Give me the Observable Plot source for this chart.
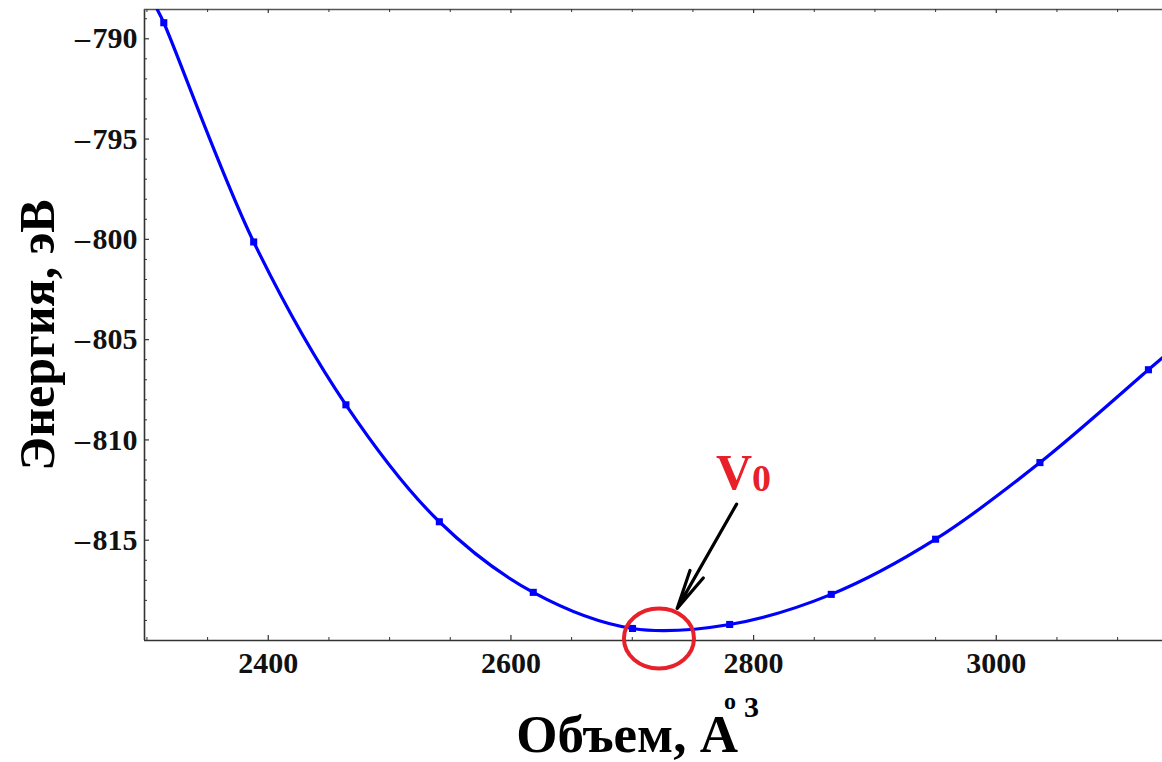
<!DOCTYPE html>
<html><head><meta charset="utf-8">
<script src="https://cdn.jsdelivr.net/npm/d3@7"></script>
<script src="https://cdn.jsdelivr.net/npm/@observablehq/plot@0.6"></script>
<style>
  html,body{margin:0;padding:0;background:#fff;}
  #chart svg{display:block;}
</style>
</head><body><div id="chart"></div>
<script>
// ---- data ----
const volumes  = [2313.9, 2388, 2464, 2541, 2618.4, 2700.2, 2780.3, 2864, 2950, 3036, 3125.4];
const energies = [-789.2, -800.13, -808.25, -814.08, -817.6, -819.4, -819.2, -817.7, -814.95, -811.13, -806.5];
// where the fitted curve leaves the frame
const fitEdgeVolumes  = [2308.5, 3137];
const fitEdgeEnergies = [-788.54, -805.9];
const xTicks = [2400, 2600, 2800, 3000];
const xMinorTicks = [2300, 2350, 2450, 2500, 2550, 2650, 2700, 2750, 2850, 2900, 2950, 3050, 3100];
const yTicks = [-790, -795, -800, -805, -810, -815];
const yMinorTicks = [-789, -791, -792, -793, -794, -796, -797, -798, -799, -801, -802, -803, -804,
                     -806, -807, -808, -809, -811, -812, -813, -814, -816, -817, -818, -819];
const xDomain = [2298, 3137];
const yDomain = [-820, -788.54];
const yLabel = "Энергия, эВ";
const xLabel = "Объем, A";
// V0 annotation (data coordinates)
const v0Circle = [{V: 2722, E: -819.9}];
const v0Arrow  = [{V1: 2786, E1: -813.2, V2: 2737, E2: -818.4}];
const v0Text   = [{V: 2769, E: -812.45, main: "V", sub: "0"}];

// ---- build tables ----
const points = volumes.map((v, i) => ({V: v, E: energies[i]}));
const fit = [{V: fitEdgeVolumes[0], E: fitEdgeEnergies[0]}, ...points, {V: fitEdgeVolumes[1], E: fitEdgeEnergies[1]}];

const W = 1162, H = 762;
const mL = 144, mR = 0, mT = 9, mB = 122;
const fw = W - mL - mR, fh = H - mT - mB;
const serif = "'Liberation Serif', 'Times New Roman', serif";
const red = "#e8202a";

const ellipseSymbol = {
  draw(ctx, size) {
    const r = Math.sqrt(size / Math.PI);
    const rx = r * 1.167, ry = r, k = 0.5523;
    ctx.moveTo(rx, 0);
    ctx.bezierCurveTo(rx, ry * k, rx * k, ry, 0, ry);
    ctx.bezierCurveTo(-rx * k, ry, -rx, ry * k, -rx, 0);
    ctx.bezierCurveTo(-rx, -ry * k, -rx * k, -ry, 0, -ry);
    ctx.bezierCurveTo(rx * k, -ry, rx, -ry * k, rx, 0);
    ctx.closePath();
  }
};

const chart = Plot.plot({
  width: W, height: H,
  marginLeft: mL, marginRight: mR, marginTop: mT, marginBottom: mB,
  style: {background: "#fff", overflow: "visible"},
  x: {domain: xDomain},
  y: {domain: yDomain},
  marks: [
    // frame lines
    Plot.ruleX([xDomain[0]], {stroke: "#333", strokeWidth: 1.6}),
    Plot.ruleY([yDomain[0]], {stroke: "#333", strokeWidth: 1.6}),
    Plot.ruleY([yDomain[1]], {stroke: "#555", strokeWidth: 1.6}),
    // inward ticks
    Plot.ruleY(yTicks, {insetRight: fw - 5, stroke: "#333", strokeWidth: 1.2}),
    Plot.ruleY(yMinorTicks, {insetRight: fw - 3, stroke: "#333", strokeWidth: 1}),
    Plot.ruleX(xTicks, {insetTop: fh - 5, stroke: "#333", strokeWidth: 1.2}),
    Plot.ruleX(xMinorTicks, {insetTop: fh - 3, stroke: "#333", strokeWidth: 1}),
    Plot.ruleX(xTicks, {insetBottom: fh - 4, stroke: "#333", strokeWidth: 1.2}),
    Plot.ruleX(xMinorTicks, {insetBottom: fh - 3, stroke: "#333", strokeWidth: 1}),
    // axes labels
    Plot.axisY(yTicks, {label: null, tickSize: 0, tickPadding: 7, tickFormat: d => "\u2013\u200A" + Math.abs(d),
      fontSize: 30, fontWeight: "bold", fontFamily: serif, fill: "#111"}),
    Plot.axisX(xTicks, {label: null, tickSize: 0, tickPadding: 11, tickFormat: d => String(d),
      fontSize: 30, fontWeight: "bold", fontFamily: serif, fill: "#111"}),
    // fitted curve and points
    Plot.line(fit, {x: "V", y: "E", stroke: "#0000ff", strokeWidth: 3.2, curve: "catmull-rom", clip: true}),
    Plot.dot(points, {x: "V", y: "E", r: 4, fill: "#0000ff", symbol: "square"}),
    // V0 annotation
    Plot.dot(v0Circle, {x: "V", y: "E", r: 30, symbol: ellipseSymbol, stroke: red, strokeWidth: 4, fill: "none"}),
    Plot.arrow(v0Arrow, {x1: "V1", y1: "E1", x2: "V2", y2: "E2", stroke: "#000", strokeWidth: 3.2, headLength: 24, headAngle: 22}),
    Plot.text(v0Text, {x: "V", y: "E", text: "main", textAnchor: "start", lineAnchor: "bottom",
      fill: red, fontSize: 50, fontWeight: "bold", fontFamily: serif, className: "v0label"})
  ]
});

document.getElementById("chart").appendChild(chart);

const svg = d3.select(chart);

// subscript of V0 as a tspan of the same text element
svg.selectAll(".v0label text").each(function(d, i) {
  d3.select(this).append("tspan")
    .attr("dx", 0).attr("dy", 2)
    .attr("font-size", 38)
    .text(v0Text[i].sub);
});

// axis titles
svg.append("text")
  .attr("transform", "translate(54,335) rotate(-90)")
  .attr("text-anchor", "middle")
  .attr("font-family", serif).attr("font-weight", "bold").attr("font-size", 50)
  .attr("fill", "#000")
  .text(yLabel);

const xl = svg.append("text")
  .attr("x", 0).attr("y", 752)
  .attr("text-anchor", "start")
  .attr("font-family", serif).attr("font-weight", "bold").attr("font-size", 53)
  .attr("fill", "#000")
  .text(xLabel);
const L = xl.node().getComputedTextLength();
xl.attr("x", 738 - L);
xl.append("tspan").attr("dx", -14).attr("dy", -43).attr("font-size", 24).text("o");
xl.append("tspan").attr("dx", 8).attr("dy", 8).attr("font-size", 30).text("3");
</script>
</body></html>
